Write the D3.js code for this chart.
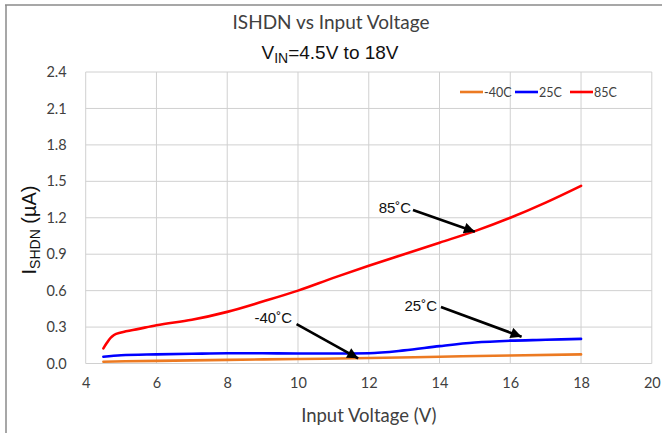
<!DOCTYPE html>
<html>
<head>
<meta charset="utf-8">
<script src="https://cdn.jsdelivr.net/npm/d3@7"></script>
<style>
    body { margin: 0; background: #fff; }
    svg { display: block; }
</style>
</head>
<body>
<svg id="chart" width="662" height="433"></svg>
<script>
    // values
    const xTicks = [4, 6, 8, 10, 12, 14, 16, 18, 20];
    const yTicks = [0, 0.3, 0.6, 0.9, 1.2, 1.5, 1.8, 2.1, 2.4];

    const vin85 = [4.5, 4.6, 4.7, 4.8, 5, 5.5, 6, 7, 8, 9, 10, 11, 12, 13, 14, 15, 16, 17, 18];
    const i85 = [0.125, 0.17, 0.21, 0.235, 0.255, 0.285, 0.315, 0.36, 0.425, 0.51, 0.6, 0.705, 0.805, 0.9, 0.995, 1.09, 1.2, 1.325, 1.463];

    const vin25 = [4.5, 5, 6, 7, 8, 9, 10, 11, 12, 13, 14, 15, 16, 17, 18];
    const i25 = [0.056, 0.068, 0.075, 0.08, 0.084, 0.084, 0.082, 0.082, 0.085, 0.108, 0.143, 0.173, 0.188, 0.195, 0.203];

    const vinM40 = [4.5, 6, 8, 10, 12, 14, 16, 18];
    const iM40 = [0.015, 0.022, 0.03, 0.037, 0.045, 0.056, 0.066, 0.075];

    const seriesNames = ['-40C', '25C', '85C'];
    const seriesColors = ['#ec7a22', '#0000ff', '#ff0000'];

    // annotation text and arrows: [label, labelX, labelY, fromX, fromY, toX, toY] in data units
    const notes = [
        ['85˚C', 13.2, 1.235, 13.25, 1.263, 15.0, 1.085],
        ['25˚C', 13.93, 0.432, 14.04, 0.465, 16.32, 0.22],
        ['-40˚C', 9.83, 0.333, 9.96, 0.325, 11.7, 0.043]
    ];

    const calibri = 'Lato, "Open Sans", sans-serif';
    const arial = '"Liberation Sans", Arial, sans-serif';

    let svg = d3.select('#chart');
    let plot = {left: 85.7, right: 651.8, top: 72, bottom: 363.5};

    let x = d3.scaleLinear().domain([4, 20]).range([plot.left, plot.right]);
    let y = d3.scaleLinear().domain([0, 2.4]).range([plot.bottom, plot.top]);

    //figure frame: only top and left edges show in the picture
    svg.append('line').attr('x1', 5).attr('x2', 662).attr('y1', 5).attr('y2', 5)
        .attr('stroke', '#8a8a8a').attr('stroke-width', 1.5);
    svg.append('line').attr('x1', 6).attr('x2', 6).attr('y1', 5).attr('y2', 433)
        .attr('stroke', '#8a8a8a').attr('stroke-width', 1.5);

    // grid
    let grid = svg.append('g').attr('stroke', '#d0d0d0').attr('stroke-width', 1);
    grid.selectAll('.gx').data(xTicks).enter().append('line')
        .attr('x1', d => x(d)).attr('x2', d => x(d))
        .attr('y1', plot.top).attr('y2', plot.bottom);
    grid.selectAll('.gy').data(yTicks).enter().append('line')
        .attr('x1', plot.left).attr('x2', plot.right)
        .attr('y1', d => y(d)).attr('y2', d => y(d));

    // axes (ticks hidden, labels only)
    let xAxis = svg.append('g').attr('transform', `translate(0,${plot.bottom})`)
        .call(d3.axisBottom(x).tickValues(xTicks).tickSize(0).tickPadding(14).tickFormat(d3.format('d')));
    let yAxis = svg.append('g').attr('transform', `translate(${plot.left},0)`)
        .call(d3.axisLeft(y).tickValues(yTicks).tickSize(0).tickPadding(19).tickFormat(d3.format('.1f')));
    [xAxis, yAxis].forEach(ax => {
        ax.select('.domain').remove();
        ax.selectAll('text').attr('font-family', calibri).attr('font-size', 14.5).attr('fill', '#404040');
    });

    // series
    let line = d3.line().x(d => x(d[0])).y(d => y(d[1])).curve(d3.curveMonotoneX);
    let series = [d3.zip(vinM40, iM40), d3.zip(vin25, i25), d3.zip(vin85, i85)];
    series.forEach((pts, i) => {
        svg.append('path').datum(pts).attr('d', line)
            .attr('fill', 'none').attr('stroke', seriesColors[i])
            .attr('stroke-width', 2.6).attr('stroke-linecap', 'round');
    });

    // legend
    let legend = svg.append('g').attr('transform', 'translate(460,92)');
    seriesNames.forEach((name, i) => {
        let g = legend.append('g').attr('transform', `translate(${i * 55},0)`);
        g.append('line').attr('x1', 0).attr('x2', 23).attr('stroke', seriesColors[i]).attr('stroke-width', 2.6);
        g.append('text').attr('x', 24).attr('y', 4.5).text(name)
            .attr('font-family', calibri).attr('font-size', 12.5).attr('fill', '#404040');
    });

    // arrows
    let defs = svg.append('defs');
    defs.append('marker').attr('id', 'head').attr('viewBox', '0 0 10 10')
        .attr('refX', 10).attr('refY', 5).attr('markerWidth', 5.5).attr('markerHeight', 4.2)
        .attr('orient', 'auto').attr('markerUnits', 'strokeWidth')
        .append('path').attr('d', 'M0,0L10,5L0,10Z').attr('fill', '#000');

    notes.forEach(n => {
        svg.append('text').attr('x', x(n[1])).attr('y', y(n[2])).text(n[0])
            .attr('text-anchor', 'end').attr('font-family', arial).attr('font-size', 15).attr('fill', '#111');
        svg.append('line').attr('x1', x(n[3])).attr('y1', y(n[4])).attr('x2', x(n[5])).attr('y2', y(n[6]))
            .attr('stroke', '#000').attr('stroke-width', 2.6).attr('marker-end', 'url(#head)');
    });

    // titles
    svg.append('text').attr('x', 331).attr('y', 29).attr('text-anchor', 'middle')
        .attr('font-family', calibri).attr('font-size', 19).attr('fill', '#404040')
        .text('ISHDN vs Input Voltage');

    let sub = svg.append('text').attr('x', 330).attr('y', 59).attr('text-anchor', 'middle')
        .attr('font-family', arial).attr('font-size', 19).attr('fill', '#111');
    sub.append('tspan').text('V');
    sub.append('tspan').attr('font-size', 14).attr('dy', 4).text('IN');
    sub.append('tspan').attr('dy', -4).text('=4.5V to 18V');

    svg.append('text').attr('x', (plot.left + plot.right) / 2).attr('y', 422).attr('text-anchor', 'middle')
        .attr('font-family', calibri).attr('font-size', 18.5).attr('fill', '#404040')
        .text('Input Voltage (V)');

    let yl = svg.append('text').attr('transform', 'translate(36,230) rotate(-90)').attr('text-anchor', 'middle')
        .attr('font-family', arial).attr('font-size', 20).attr('fill', '#111');
    yl.append('tspan').text('I');
    yl.append('tspan').attr('font-size', 14).attr('dy', 4).text('SHDN');
    yl.append('tspan').attr('dy', -4).text(' (µA)');
</script>
</body>
</html>
